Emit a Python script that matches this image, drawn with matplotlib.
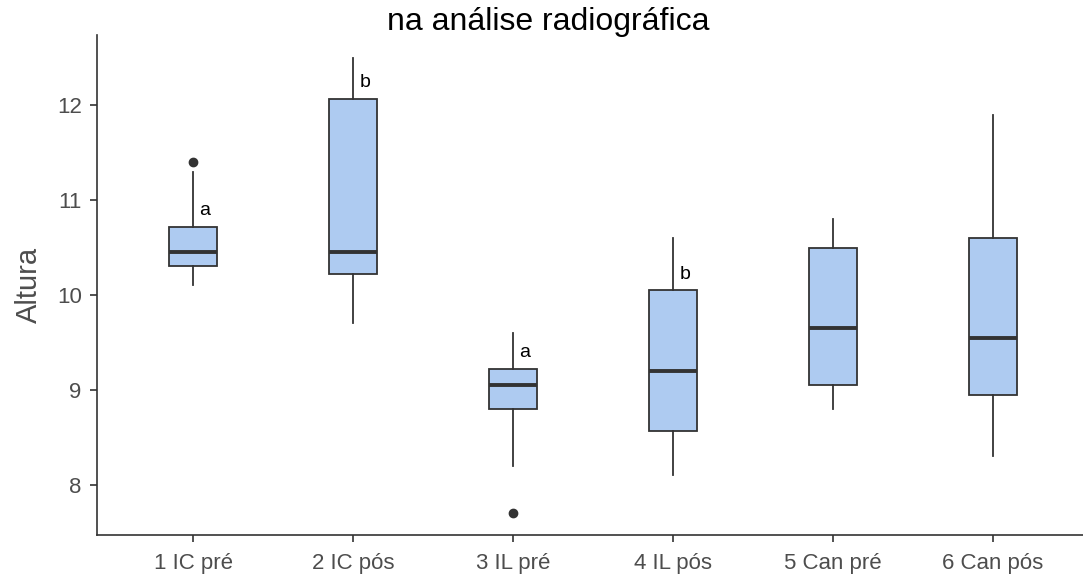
import matplotlib
matplotlib.use("Agg")
import matplotlib.pyplot as plt

plt.rcParams['font.family'] = ['Liberation Sans', 'DejaVu Sans']

grupos = ["1 IC pré", "2 IC pós", "3 IL pré", "4 IL pós", "5 Can pré", "6 Can pós"]
q1 = [10.30, 10.22, 8.80, 8.57, 9.05, 8.95]
medianas = [10.45, 10.45, 9.05, 9.20, 9.65, 9.55]
q3 = [10.72, 12.07, 9.22, 10.05, 10.50, 10.60]
bigode_inf = [10.10, 9.70, 8.20, 8.10, 8.80, 8.30]
bigode_sup = [11.30, 12.50, 9.60, 10.60, 10.80, 11.90]
outliers = [[11.40], [], [7.70], [], [], []]
letras = ["a", "b", "a", "b", None, None]

stats = []
for i, g in enumerate(grupos):
    stats.append(dict(label=g, q1=q1[i], med=medianas[i], q3=q3[i],
                      whislo=bigode_inf[i], whishi=bigode_sup[i],
                      fliers=outliers[i]))

fig = plt.figure(figsize=(10.83, 5.8), dpi=100)
ax = fig.add_axes([97 / 1083, 45 / 580, 992 / 1083, 500 / 580])

cor = "#333333"
ax.bxp(stats, positions=range(1, 7), widths=0.3, patch_artist=True,
       showcaps=False,
       boxprops=dict(facecolor="#aecbf1", edgecolor=cor, linewidth=1.3),
       medianprops=dict(color=cor, linewidth=2.8),
       whiskerprops=dict(color=cor, linewidth=1.3),
       flierprops=dict(marker="o", markerfacecolor=cor, markeredgecolor=cor,
                       markersize=6))

# letras de significancia ao lado do bigode
for i, letra in enumerate(letras):
    if letra:
        ax.text(i + 1.04, q3[i] + 0.17, letra, ha="left", va="center",
                fontsize=14, color="black")

ax.set_xlim(0.4, 6.6)
ax.set_ylim(7.47, 12.74)
ax.set_yticks([8, 9, 10, 11, 12])
ax.set_xticks(range(1, 7))
ax.set_xticklabels(grupos)
ax.set_ylabel("Altura", fontsize=21, color="#4d4d4d", labelpad=10)

for s in ["top", "right"]:
    ax.spines[s].set_visible(False)
for s in ["left", "bottom"]:
    ax.spines[s].set_color(cor)
    ax.spines[s].set_linewidth(1.2)
ax.tick_params(colors=cor, labelcolor="#4d4d4d", labelsize=16,
               length=5, width=1.2, pad=6)
ax.tick_params(axis="x", pad=8)

fig.text(548 / 1083, 1 - 22 / 580, "na análise radiográfica", ha="center",
         va="center", fontsize=23, color="black")

fig.savefig("out.png", dpi=100)
